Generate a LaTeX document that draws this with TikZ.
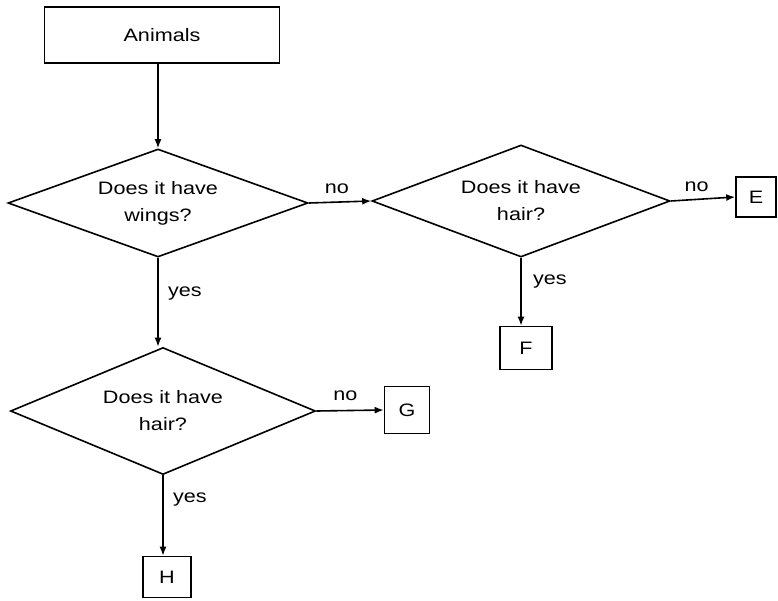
\documentclass[tikz,border=0pt]{standalone}
\usepackage{fontspec}
\setmainfont[FakeStretch=1.2]{Liberation Sans}
\usetikzlibrary{shapes.geometric,arrows.meta}
\begin{document}
\begin{tikzpicture}[x=1pt,y=-1pt]
    \newcommand{\fsize}{\fontsize{18}{27}\selectfont}
    \newcommand{\lw}{1.6pt} % line width of shapes and arrows

    % set the styles of the boxes, questions and arrows
    \tikzset{
        box/.style={
            draw,
            line width=\lw,
            inner sep=0pt,
            font=\fsize
            },
        question/.style={
            draw,
            diamond,
            aspect=2.7,
            inner sep=0pt,
            line width=\lw,
            align=center,
            font=\fsize
            },
        link/.style={-{Latex[length=9pt,width=7pt]}, line width=\lw},
        lab/.style={font=\fsize}
    }

    \useasboundingbox (0,0) rectangle (778,600);

    % start box
    \node[box, minimum width=235pt, minimum height=56pt] (animals) at (162,35) {Animals};

    % questions
    \node[question, minimum width=300pt, minimum height=108pt] (wings) at (158,203) {Does it have\\wings?};
    \node[question, minimum width=298pt, minimum height=112pt] (hairA) at (521,201) {Does it have\\hair?};
    \node[question, minimum width=305pt, minimum height=127pt] (hairB) at (163,411) {Does it have\\hair?};

    % end boxes
    \node[box, minimum width=40pt, minimum height=40pt] (E) at (756,197) {E};
    \node[box, minimum width=52pt, minimum height=43pt] (F) at (526,348) {F};
    \node[box, minimum width=45pt, minimum height=47pt] (G) at (407,410) {G};
    \node[box, minimum width=48pt, minimum height=41pt] (H) at (167,577) {H};

    % arrows
    \draw[link] (wings.north |- animals.south) -- (wings.north);
    \draw[link] (wings.east) -- node[lab, above=4pt, pos=0.45] {no} (hairA.west);
    \draw[link] (hairA.east) -- node[lab, above=4pt, pos=0.4] {no} (E.west);
    \draw[link] (hairA.south) -- node[lab, right=8pt, pos=0.35] {yes} (hairA.south |- F.north);
    \draw[link] (wings.south) -- node[lab, right=6pt, pos=0.4] {yes} (wings.south |- hairB.north);
    \draw[link] (hairB.east) -- node[lab, above=6pt, pos=0.43] {no} (G.west);
    \draw[link] (hairB.south) -- node[lab, right=6pt, pos=0.3] {yes} (hairB.south |- H.north);

\end{tikzpicture}
\end{document}
